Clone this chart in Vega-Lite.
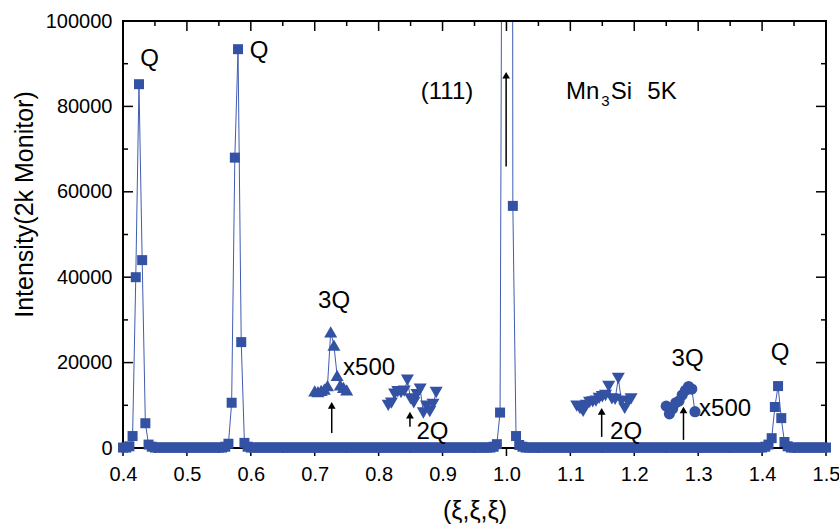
{
  "$schema": "https://vega.github.io/schema/vega-lite/v6.json",
  "width": 703,
  "height": 427,
  "autosize": {"type": "none"},
  "padding": {"left": 123, "top": 21, "right": 13, "bottom": 78},
  "background": "white",
  "config": {
    "view": {"stroke": null},
    "axis": {"grid": false, "labelFont": "Liberation Sans", "titleFont": "Liberation Sans", "labelFontSize": 20, "labelColor": "black", "titleFontWeight": "normal", "titleColor": "black", "labelFlush": false, "labelOverlap": false}
  },
  "datasets": {
    "main": [
      {"x":0.4,"y":100},{"x":0.405,"y":100},{"x":0.41,"y":400},{"x":0.415,"y":2800},{"x":0.42,"y":40000},{"x":0.425,"y":85200},{"x":0.43,"y":44000},{"x":0.435,"y":5800},{"x":0.44,"y":800},{"x":0.445,"y":300},
      {"x":0.45,"y":100},{"x":0.455,"y":100},{"x":0.46,"y":100},{"x":0.465,"y":100},{"x":0.47,"y":100},{"x":0.475,"y":100},{"x":0.48,"y":100},{"x":0.485,"y":100},{"x":0.49,"y":100},{"x":0.495,"y":100},
      {"x":0.5,"y":100},{"x":0.505,"y":100},{"x":0.51,"y":100},{"x":0.515,"y":100},{"x":0.52,"y":100},{"x":0.525,"y":100},{"x":0.53,"y":100},{"x":0.535,"y":100},{"x":0.54,"y":100},{"x":0.545,"y":100},
      {"x":0.55,"y":100},{"x":0.555,"y":100},{"x":0.56,"y":300},{"x":0.565,"y":1000},{"x":0.57,"y":10600},{"x":0.575,"y":68000},{"x":0.58,"y":93400},{"x":0.585,"y":24800},{"x":0.59,"y":1200},{"x":0.595,"y":300},
      {"x":0.6,"y":100},{"x":0.605,"y":100},{"x":0.61,"y":100},{"x":0.615,"y":100},{"x":0.62,"y":100},{"x":0.625,"y":100},{"x":0.63,"y":100},{"x":0.635,"y":100},{"x":0.64,"y":100},{"x":0.645,"y":100},
      {"x":0.65,"y":100},{"x":0.655,"y":100},{"x":0.66,"y":100},{"x":0.665,"y":100},{"x":0.67,"y":100},{"x":0.675,"y":100},{"x":0.68,"y":100},{"x":0.685,"y":100},{"x":0.69,"y":100},{"x":0.695,"y":100},
      {"x":0.7,"y":100},{"x":0.705,"y":100},{"x":0.71,"y":100},{"x":0.715,"y":100},{"x":0.72,"y":100},{"x":0.725,"y":100},{"x":0.73,"y":100},{"x":0.735,"y":100},{"x":0.74,"y":100},{"x":0.745,"y":100},
      {"x":0.75,"y":100},{"x":0.755,"y":100},{"x":0.76,"y":100},{"x":0.765,"y":100},{"x":0.77,"y":100},{"x":0.775,"y":100},{"x":0.78,"y":100},{"x":0.785,"y":100},{"x":0.79,"y":100},{"x":0.795,"y":100},
      {"x":0.8,"y":100},{"x":0.805,"y":100},{"x":0.81,"y":100},{"x":0.815,"y":100},{"x":0.82,"y":100},{"x":0.825,"y":100},{"x":0.83,"y":100},{"x":0.835,"y":100},{"x":0.84,"y":100},{"x":0.845,"y":100},
      {"x":0.85,"y":100},{"x":0.855,"y":100},{"x":0.86,"y":100},{"x":0.865,"y":100},{"x":0.87,"y":100},{"x":0.875,"y":100},{"x":0.88,"y":100},{"x":0.885,"y":100},{"x":0.89,"y":100},{"x":0.895,"y":100},
      {"x":0.9,"y":100},{"x":0.905,"y":100},{"x":0.91,"y":100},{"x":0.915,"y":100},{"x":0.92,"y":100},{"x":0.925,"y":100},{"x":0.93,"y":100},{"x":0.935,"y":100},{"x":0.94,"y":100},{"x":0.945,"y":100},
      {"x":0.95,"y":100},{"x":0.955,"y":100},{"x":0.96,"y":100},{"x":0.965,"y":100},{"x":0.97,"y":100},{"x":0.975,"y":100},{"x":0.98,"y":300},{"x":0.985,"y":900},{"x":0.99,"y":8300},{"x":0.995,"y":220000},
      {"x":1.0,"y":700000},{"x":1.005,"y":900000},{"x":1.01,"y":56700},{"x":1.015,"y":2800},{"x":1.02,"y":700},{"x":1.025,"y":300},{"x":1.03,"y":100},{"x":1.035,"y":100},{"x":1.04,"y":100},{"x":1.045,"y":100},
      {"x":1.05,"y":100},{"x":1.055,"y":100},{"x":1.06,"y":100},{"x":1.065,"y":100},{"x":1.07,"y":100},{"x":1.075,"y":100},{"x":1.08,"y":100},{"x":1.085,"y":100},{"x":1.09,"y":100},{"x":1.095,"y":100},
      {"x":1.1,"y":100},{"x":1.105,"y":100},{"x":1.11,"y":100},{"x":1.115,"y":100},{"x":1.12,"y":100},{"x":1.125,"y":100},{"x":1.13,"y":100},{"x":1.135,"y":100},{"x":1.14,"y":100},{"x":1.145,"y":100},
      {"x":1.15,"y":100},{"x":1.155,"y":100},{"x":1.16,"y":100},{"x":1.165,"y":100},{"x":1.17,"y":100},{"x":1.175,"y":100},{"x":1.18,"y":100},{"x":1.185,"y":100},{"x":1.19,"y":100},{"x":1.195,"y":100},
      {"x":1.2,"y":100},{"x":1.205,"y":100},{"x":1.21,"y":100},{"x":1.215,"y":100},{"x":1.22,"y":100},{"x":1.225,"y":100},{"x":1.23,"y":100},{"x":1.235,"y":100},{"x":1.24,"y":100},{"x":1.245,"y":100},
      {"x":1.25,"y":100},{"x":1.255,"y":100},{"x":1.26,"y":100},{"x":1.265,"y":100},{"x":1.27,"y":100},{"x":1.275,"y":100},{"x":1.28,"y":100},{"x":1.285,"y":100},{"x":1.29,"y":100},{"x":1.295,"y":100},
      {"x":1.3,"y":100},{"x":1.305,"y":100},{"x":1.31,"y":100},{"x":1.315,"y":100},{"x":1.32,"y":100},{"x":1.325,"y":100},{"x":1.33,"y":100},{"x":1.335,"y":100},{"x":1.34,"y":100},{"x":1.345,"y":100},
      {"x":1.35,"y":100},{"x":1.355,"y":100},{"x":1.36,"y":100},{"x":1.365,"y":100},{"x":1.37,"y":100},{"x":1.375,"y":100},{"x":1.38,"y":100},{"x":1.385,"y":100},{"x":1.39,"y":100},{"x":1.395,"y":100},
      {"x":1.4,"y":100},{"x":1.405,"y":300},{"x":1.41,"y":800},{"x":1.415,"y":2300},{"x":1.42,"y":9600},{"x":1.425,"y":14500},{"x":1.43,"y":7000},{"x":1.435,"y":1400},{"x":1.44,"y":400},{"x":1.445,"y":100},
      {"x":1.45,"y":100},{"x":1.455,"y":100},{"x":1.46,"y":100},{"x":1.465,"y":100},{"x":1.47,"y":100},{"x":1.475,"y":100},{"x":1.48,"y":100},{"x":1.485,"y":100},{"x":1.49,"y":100},{"x":1.495,"y":100},
      {"x":1.5,"y":100}
    ],
    "tup": [
      {"x":0.7,"y":13400},{"x":0.705,"y":13200},{"x":0.71,"y":13500},{"x":0.715,"y":13800},{"x":0.72,"y":14600},{"x":0.725,"y":27200},{"x":0.73,"y":24100},{"x":0.735,"y":17000},{"x":0.74,"y":14800},{"x":0.745,"y":14200},{"x":0.75,"y":13600}
    ],
    "tdn1": [
      {"x":0.815,"y":10000},{"x":0.82,"y":10500},{"x":0.825,"y":12600},{"x":0.83,"y":13200},{"x":0.835,"y":13000},{"x":0.84,"y":13300},{"x":0.845,"y":15900},{"x":0.85,"y":11500},{"x":0.855,"y":10600},{"x":0.86,"y":12500},{"x":0.865,"y":13800},{"x":0.87,"y":8200},{"x":0.875,"y":9800},{"x":0.88,"y":8500},{"x":0.885,"y":10200},{"x":0.89,"y":13000}
    ],
    "tdn2": [
      {"x":1.11,"y":9800},{"x":1.115,"y":9200},{"x":1.12,"y":8600},{"x":1.125,"y":10000},{"x":1.13,"y":10700},{"x":1.135,"y":10800},{"x":1.14,"y":11000},{"x":1.145,"y":11600},{"x":1.15,"y":12000},{"x":1.155,"y":12300},{"x":1.16,"y":14400},{"x":1.165,"y":11500},{"x":1.17,"y":11400},{"x":1.175,"y":16300},{"x":1.18,"y":11000},{"x":1.185,"y":9300},{"x":1.19,"y":10800},{"x":1.195,"y":11500}
    ],
    "circ": [
      {"x":1.25,"y":9800},{"x":1.255,"y":8000},{"x":1.26,"y":9200},{"x":1.265,"y":10600},{"x":1.27,"y":11000},{"x":1.275,"y":12400},{"x":1.28,"y":13500},{"x":1.285,"y":14400},{"x":1.29,"y":13800},{"x":1.295,"y":8500}
    ],
    "lblc": [
      {"t":"Q","x":0.4415,"y":89500},{"t":"Q","x":0.6131,"y":91450},{"t":"(111)","x":0.907,"y":81730},{"t":"3Q","x":0.7302,"y":32900},{"t":"2Q","x":0.8843,"y":2220},{"t":"2Q","x":1.1872,"y":2220},{"t":"3Q","x":1.2834,"y":19200},{"t":"Q","x":1.4282,"y":20500}
    ],
    "lbll": [
      {"t":"x500","x":0.7443,"y":17100},{"t":"x500","x":1.3014,"y":7500},{"t":"Mn","x":1.0933,"y":81730},{"t":"Si","x":1.1631,"y":81730},{"t":"5K","x":1.2204,"y":81730}
    ],
    "sub": [{"t":"3","x":1.1485,"y":80100}],
    "arrows": [
      {"x":0.9995,"y0":65900,"yh":87300},{"x":0.7266,"y0":3500,"yh":10000},{"x":0.849,"y0":5000,"yh":7700},{"x":1.149,"y0":2600,"yh":8600},{"x":1.277,"y0":1900,"yh":8900}
    ],
    "xmaj": [{"v":0.4},{"v":0.5},{"v":0.6},{"v":0.7},{"v":0.8},{"v":0.9},{"v":1.0},{"v":1.1},{"v":1.2},{"v":1.3},{"v":1.4},{"v":1.5}],
    "xmin": [{"v":0.45},{"v":0.55},{"v":0.65},{"v":0.75},{"v":0.85},{"v":0.95},{"v":1.05},{"v":1.15},{"v":1.25},{"v":1.35},{"v":1.45}],
    "ymaj": [{"v":0},{"v":20000},{"v":40000},{"v":60000},{"v":80000},{"v":100000}],
    "ymin": [{"v":10000},{"v":30000},{"v":50000},{"v":70000},{"v":90000}],
    "frame": [{"x0":0.4,"x1":1.5,"y0":0,"y1":100000}]
  },
  "layer": [
    {
      "data": {"name": "main"},
      "mark": {"type": "line", "clip": true, "color": "#3f5db0", "strokeWidth": 1},
      "encoding": {
        "x": {"field": "x", "type": "quantitative", "scale": {"domain": [0.4, 1.5], "nice": false, "zero": false},
          "axis": {"orient": "bottom", "values": [0.4,0.5,0.6,0.7,0.8,0.9,1.0,1.1,1.2,1.3,1.4,1.5], "format": ".1f", "ticks": true, "tickSize": 0, "tickOpacity": 0, "labelPadding": 16, "labelFont": "Liberation Sans", "labelFontSize": 20, "labelColor": "black", "domain": false, "title": "(ξ,ξ,ξ)", "titleFont": "Liberation Sans", "titleFontSize": 25, "titleX": 351.5, "titleY": 70, "titleBaseline": "alphabetic", "titleAlign": "center"}},
        "y": {"field": "y", "type": "quantitative", "scale": {"domain": [0, 100000], "nice": false, "zero": false},
          "axis": {"orient": "left", "values": [0,20000,40000,60000,80000,100000], "format": "d", "ticks": true, "tickSize": 0, "tickOpacity": 0, "labelPadding": 11, "labelFont": "Liberation Sans", "labelFontSize": 20, "labelColor": "black", "domain": false, "title": "Intensity(2k Monitor)", "titleFont": "Liberation Sans", "titleFontSize": 25, "titleX": -91, "titleY": 183, "titleAngle": -90, "titleBaseline": "alphabetic", "titleAlign": "center"}},
        "order": {"field": "x", "type": "quantitative"}
      }
    },
    {
      "data": {"name": "frame"},
      "mark": {"type": "rect", "fill": null, "fillOpacity": 0, "stroke": "black", "strokeWidth": 2, "strokeOpacity": 1},
      "encoding": {"x": {"field": "x0", "type": "quantitative"}, "x2": {"field": "x1"}, "y": {"field": "y0", "type": "quantitative"}, "y2": {"field": "y1"}}
    },
    {
      "data": {"name": "xmaj"},
      "mark": {"type": "tick", "orient": "vertical", "size": 10, "thickness": 1.5, "yOffset": 5, "color": "black", "opacity": 1},
      "encoding": {"x": {"field": "v", "type": "quantitative"}, "y": {"datum": 100000, "type": "quantitative"}}
    },
    {
      "data": {"name": "xmin"},
      "mark": {"type": "tick", "orient": "vertical", "size": 5, "thickness": 1.5, "yOffset": 2.5, "color": "black", "opacity": 1},
      "encoding": {"x": {"field": "v", "type": "quantitative"}, "y": {"datum": 100000, "type": "quantitative"}}
    },
    {
      "data": {"name": "xmaj"},
      "mark": {"type": "tick", "orient": "vertical", "size": 8, "thickness": 1.5, "yOffset": 4, "color": "black", "opacity": 1},
      "encoding": {"x": {"field": "v", "type": "quantitative"}, "y": {"datum": 0, "type": "quantitative"}}
    },
    {
      "data": {"name": "xmin"},
      "mark": {"type": "tick", "orient": "vertical", "size": 5, "thickness": 1.5, "yOffset": 2.5, "color": "black", "opacity": 1},
      "encoding": {"x": {"field": "v", "type": "quantitative"}, "y": {"datum": 0, "type": "quantitative"}}
    },
    {
      "data": {"name": "ymaj"},
      "mark": {"type": "tick", "orient": "horizontal", "size": 10, "thickness": 1.5, "xOffset": 5, "color": "black", "opacity": 1},
      "encoding": {"y": {"field": "v", "type": "quantitative"}, "x": {"datum": 0.4, "type": "quantitative"}}
    },
    {
      "data": {"name": "ymin"},
      "mark": {"type": "tick", "orient": "horizontal", "size": 5, "thickness": 1.5, "xOffset": 2.5, "color": "black", "opacity": 1},
      "encoding": {"y": {"field": "v", "type": "quantitative"}, "x": {"datum": 0.4, "type": "quantitative"}}
    },
    {
      "data": {"name": "ymaj"},
      "mark": {"type": "tick", "orient": "horizontal", "size": 10, "thickness": 1.5, "xOffset": -5, "color": "black", "opacity": 1},
      "encoding": {"y": {"field": "v", "type": "quantitative"}, "x": {"datum": 1.5, "type": "quantitative"}}
    },
    {
      "data": {"name": "ymin"},
      "mark": {"type": "tick", "orient": "horizontal", "size": 5, "thickness": 1.5, "xOffset": -2.5, "color": "black", "opacity": 1},
      "encoding": {"y": {"field": "v", "type": "quantitative"}, "x": {"datum": 1.5, "type": "quantitative"}}
    },
    {
      "data": {"name": "main"},
      "transform": [{"filter": "datum.y <= 100000"}],
      "mark": {"type": "point", "shape": "square", "filled": true, "size": 100, "color": "#3452a4", "opacity": 1},
      "encoding": {"x": {"field": "x", "type": "quantitative"}, "y": {"field": "y", "type": "quantitative"}}
    },
    {
      "data": {"name": "tup"},
      "mark": {"type": "line", "color": "#3f5db0", "strokeWidth": 1},
      "encoding": {"x": {"field": "x", "type": "quantitative"}, "y": {"field": "y", "type": "quantitative"}}
    },
    {
      "data": {"name": "tup"},
      "mark": {"type": "point", "shape": "triangle-up", "filled": true, "size": 170, "color": "#3452a4", "opacity": 1},
      "encoding": {"x": {"field": "x", "type": "quantitative"}, "y": {"field": "y", "type": "quantitative"}}
    },
    {
      "data": {"name": "tdn1"},
      "mark": {"type": "line", "color": "#3f5db0", "strokeWidth": 1},
      "encoding": {"x": {"field": "x", "type": "quantitative"}, "y": {"field": "y", "type": "quantitative"}}
    },
    {
      "data": {"name": "tdn1"},
      "mark": {"type": "point", "shape": "triangle-down", "filled": true, "size": 170, "color": "#3452a4", "opacity": 1},
      "encoding": {"x": {"field": "x", "type": "quantitative"}, "y": {"field": "y", "type": "quantitative"}}
    },
    {
      "data": {"name": "tdn2"},
      "mark": {"type": "line", "color": "#3f5db0", "strokeWidth": 1},
      "encoding": {"x": {"field": "x", "type": "quantitative"}, "y": {"field": "y", "type": "quantitative"}}
    },
    {
      "data": {"name": "tdn2"},
      "mark": {"type": "point", "shape": "triangle-down", "filled": true, "size": 170, "color": "#3452a4", "opacity": 1},
      "encoding": {"x": {"field": "x", "type": "quantitative"}, "y": {"field": "y", "type": "quantitative"}}
    },
    {
      "data": {"name": "circ"},
      "mark": {"type": "line", "color": "#3f5db0", "strokeWidth": 1},
      "encoding": {"x": {"field": "x", "type": "quantitative"}, "y": {"field": "y", "type": "quantitative"}}
    },
    {
      "data": {"name": "circ"},
      "mark": {"type": "point", "shape": "circle", "filled": true, "size": 125, "color": "#3452a4", "opacity": 1},
      "encoding": {"x": {"field": "x", "type": "quantitative"}, "y": {"field": "y", "type": "quantitative"}}
    },
    {
      "data": {"name": "arrows"},
      "mark": {"type": "rule", "color": "black", "strokeWidth": 1.5},
      "encoding": {"x": {"field": "x", "type": "quantitative"}, "y": {"field": "y0", "type": "quantitative"}, "y2": {"field": "yh"}}
    },
    {
      "data": {"name": "arrows"},
      "mark": {"type": "point", "shape": "triangle-up", "filled": true, "size": 60, "color": "black", "opacity": 1},
      "encoding": {"x": {"field": "x", "type": "quantitative"}, "y": {"field": "yh", "type": "quantitative"}}
    },
    {
      "data": {"name": "lblc"},
      "mark": {"type": "text", "align": "center", "baseline": "alphabetic", "font": "Liberation Sans", "fontSize": 24, "color": "black"},
      "encoding": {"x": {"field": "x", "type": "quantitative"}, "y": {"field": "y", "type": "quantitative"}, "text": {"field": "t"}}
    },
    {
      "data": {"name": "lbll"},
      "mark": {"type": "text", "align": "left", "baseline": "alphabetic", "font": "Liberation Sans", "fontSize": 24, "color": "black"},
      "encoding": {"x": {"field": "x", "type": "quantitative"}, "y": {"field": "y", "type": "quantitative"}, "text": {"field": "t"}}
    },
    {
      "data": {"name": "sub"},
      "mark": {"type": "text", "align": "left", "baseline": "alphabetic", "font": "Liberation Sans", "fontSize": 15, "color": "black"},
      "encoding": {"x": {"field": "x", "type": "quantitative"}, "y": {"field": "y", "type": "quantitative"}, "text": {"field": "t"}}
    }
  ]
}
